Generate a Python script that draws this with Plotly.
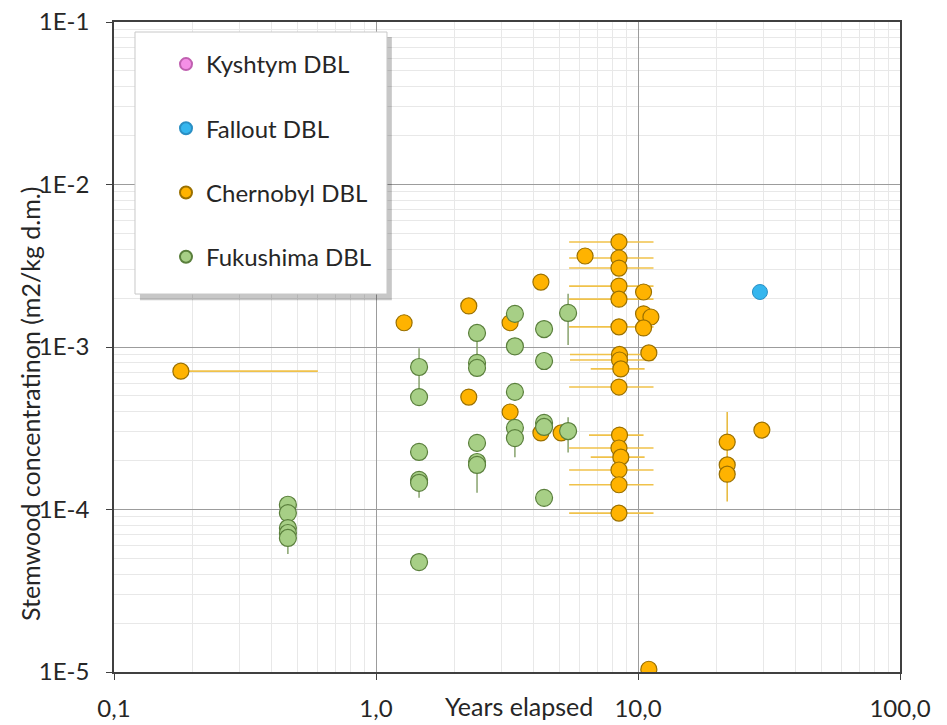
import plotly.graph_objects as go

# ---------------- data ----------------
kysh_x = [None]
kysh_y = [None]

fall_x = [29.2]
fall_y = [2.18e-3]

cher_x = [0.18, 1.28, 2.26, 2.26, 4.26, 3.25, 3.25, 4.26, 5.09, 6.28,
          8.46, 8.46, 8.46, 8.46, 8.46, 8.46, 8.5, 8.5, 8.6, 8.46,
          8.5, 8.46, 8.6, 8.46, 8.46, 8.46,
          10.5, 10.5, 11.2, 10.5, 11.0, 11.0,
          21.9, 21.9, 21.9, 29.7]
cher_y = [7.1e-4, 1.41e-3, 1.79e-3, 4.92e-4, 2.51e-3, 1.41e-3, 3.98e-4, 2.96e-4, 2.96e-4, 3.63e-3,
          4.43e-3, 3.53e-3, 3.06e-3, 2.37e-3, 1.97e-3, 1.33e-3, 9.0e-4, 8.32e-4, 7.33e-4, 5.67e-4,
          2.87e-4, 2.39e-4, 2.10e-4, 1.75e-4, 1.42e-4, 9.5e-5,
          2.18e-3, 1.60e-3, 1.53e-3, 1.31e-3, 9.2e-4, 1.04e-5,
          2.60e-4, 1.88e-4, 1.65e-4, 3.08e-4]
cher_xerr_plus = [0.42, 0, 0, 0, 0, 0, 0, 0, 0, 0,
                  3, 3, 3, 3, 3, 3, 3, 3, 2, 3,
                  2, 3, 2, 3, 3, 3,
                  0, 0, 0, 0, 0, 0,
                  0, 0, 0, 0]
cher_xerr_minus = [0, 0, 0, 0, 0, 0, 0, 0, 0, 0,
                   3, 3, 3, 3, 3, 3, 3, 3, 2, 3,
                   2, 3, 2, 3, 3, 3,
                   0, 0, 0, 0, 0, 0,
                   0, 0, 0, 0]
cher_yerr_plus = [0] * 33 + [2.1e-4, 0, 0]
cher_yerr_minus = [0] * 33 + [0.76e-4, 0, 0]

fuku_x = [0.461, 0.461, 0.461, 0.461, 0.461,
          1.46, 1.46, 1.46, 1.46, 1.46, 1.46,
          2.43, 2.43, 2.43, 2.43, 2.43, 2.43,
          3.39, 3.39, 3.39, 3.39, 3.39,
          4.38, 4.38, 4.38, 4.38, 4.38,
          5.41, 5.41]
fuku_y = [1.07e-4, 9.5e-5, 7.69e-5, 7.17e-5, 6.68e-5,
          7.53e-4, 4.92e-4, 2.26e-4, 1.52e-4, 1.46e-4, 4.75e-5,
          1.22e-3, 7.98e-4, 7.43e-4, 2.57e-4, 1.96e-4, 1.88e-4,
          1.60e-3, 1.01e-3, 5.29e-4, 3.18e-4, 2.75e-4,
          1.29e-3, 8.2e-4, 3.41e-4, 3.22e-4, 1.18e-4,
          1.62e-3, 3.04e-4]
fuku_yerr_plus = [0, 0, 0, 0, 0,
                  2.3e-4, 0, 0, 0, 0, 0,
                  1.4e-4, 0, 0, 0, 0, 0,
                  0, 0, 0, 0, 0,
                  0, 0, 0, 0, 0,
                  5.1e-4, 0.66e-4]
fuku_yerr_minus = [0, 0, 0, 0, 1.35e-5,
                   2.6e-4, 0, 0, 0, 0.28e-4, 0,
                   4.2e-4, 0, 0, 0, 0, 0.61e-4,
                   0, 0, 0, 0, 0.65e-4,
                   0.12e-3, 0, 0, 0, 0,
                   5.9e-4, 0.8e-4]

x_tickvals = [0.1, 1, 10, 100]
x_ticktext = ["0,1", "1,0", "10,0", "100,0"]
y_tickvals = [1e-5, 1e-4, 1e-3, 1e-2, 1e-1]
y_ticktext = ["1E-5", "1E-4", "1E-3", "1E-2", "1E-1"]

FONT = "Lato"
TXT = "#262626"

fig = go.Figure()

fig.add_trace(go.Scatter(
    x=kysh_x, y=kysh_y, mode="markers", name="Kyshtym DBL", legendgroup="a",
    marker=dict(size=15, color="#F58FE6", line=dict(color="#C060B0", width=1))))
fig.add_trace(go.Scatter(
    x=fall_x, y=fall_y, mode="markers", name="Fallout DBL", legendgroup="b",
    marker=dict(size=15, color="#35B6EE", line=dict(color="#2A8FC4", width=1))))
fig.add_trace(go.Scatter(
    x=cher_x, y=cher_y, mode="markers", name="Chernobyl DBL", legendgroup="c",
    marker=dict(size=16, color="#FFB300", line=dict(color="#9A7000", width=1.2)),
    error_x=dict(type="data", symmetric=False, array=cher_xerr_plus,
                 arrayminus=cher_xerr_minus, color="#F0C24A", thickness=1.6, width=0),
    error_y=dict(type="data", symmetric=False, array=cher_yerr_plus,
                 arrayminus=cher_yerr_minus, color="#E8BC44", thickness=1.6, width=0)))
fig.add_trace(go.Scatter(
    x=fuku_x, y=fuku_y, mode="markers", name="Fukushima DBL", legendgroup="d",
    marker=dict(size=17, color="#A7CF86", line=dict(color="#5A7F3C", width=1.2)),
    error_y=dict(type="data", symmetric=False, array=fuku_yerr_plus,
                 arrayminus=fuku_yerr_minus, color="#7F9C63", thickness=1.4, width=0)))

axis_common = dict(
    type="log", showline=True, mirror=True, linecolor="#404040", linewidth=1.5,
    showgrid=True, gridcolor="#9C9C9C", gridwidth=1,
    ticks="outside", ticklen=6, tickcolor="#404040",
    tickfont=dict(family=FONT, size=24, color=TXT),
    zeroline=False, automargin=False,
    minor=dict(showgrid=True, gridcolor="#E8E8E8", gridwidth=1, dtick="D1", ticks=""),
)

fig.update_xaxes(range=[-1, 2], tickmode="array", tickvals=x_tickvals, ticktext=x_ticktext,
                 ticklabelstandoff=8, **axis_common)
fig.update_yaxes(range=[-5, -1], tickmode="array", tickvals=y_tickvals, ticktext=y_ticktext,
                 ticklabelstandoff=12, **axis_common)

# legend box with shadow (paper coords)
fig.add_shape(type="rect", xref="paper", yref="paper", x0=0.0330, x1=0.3535, y0=0.5720, y1=0.9770,
              fillcolor="rgba(0,0,0,0.22)", line=dict(width=0), layer="above")
fig.add_shape(type="rect", xref="paper", yref="paper", x0=0.0267, x1=0.3473, y0=0.5815, y1=0.9846,
              fillcolor="white", line=dict(color="#C8C8C8", width=1), layer="above")

fig.add_annotation(text="Stemwood concentratinon (m2/kg d.m.)", xref="paper", yref="paper",
                   x=(30 - 114) / 786, y=(672 - 404) / 650, textangle=-90, showarrow=False,
                   font=dict(family=FONT, size=25, color=TXT), xanchor="center", yanchor="middle")
fig.add_annotation(text="Years elapsed", xref="paper", yref="paper",
                   x=(519 - 114) / 786, y=-(706 - 672) / 650, showarrow=False,
                   font=dict(family=FONT, size=25, color=TXT), xanchor="center", yanchor="middle")

fig.update_layout(
    width=947, height=725,
    margin=dict(l=114, r=47, t=22, b=53),
    paper_bgcolor="white", plot_bgcolor="white",
    font=dict(family=FONT, color=TXT),
    showlegend=True,
    legend=dict(x=(166 - 114) / 786, y=(672 - 42) / 650, xanchor="left", yanchor="top",
                bgcolor="rgba(0,0,0,0)", borderwidth=0,
                font=dict(family=FONT, size=24, color=TXT),
                traceorder="grouped", tracegroupgap=30, itemsizing="constant"),
)

fig.write_html("out.html")
